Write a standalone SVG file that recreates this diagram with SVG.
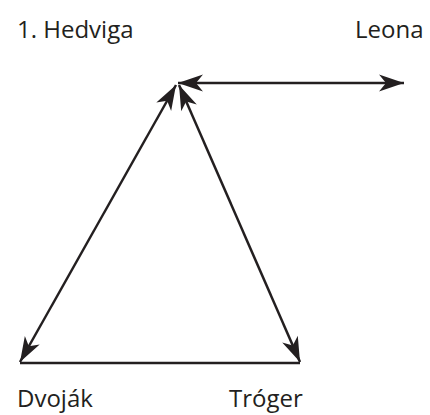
<svg xmlns="http://www.w3.org/2000/svg" width="430" height="415" viewBox="0 0 430 415">
<style>
.lbl{font-family:"Open Sans","Noto Sans",sans-serif;font-size:24px;fill:#231f20}
.ln{stroke:#231f20;stroke-width:2.5;fill:none}
</style>
<defs>
<marker id="ah" viewBox="-26 -10 28 20" refX="0" refY="0" markerWidth="28" markerHeight="20" markerUnits="userSpaceOnUse" orient="auto-start-reverse">
<path d="M0,0 L-25,-8.5 L-18,0 L-25,8.5 Z" fill="#231f20"/>
</marker>
</defs>
<rect width="430" height="415" fill="#fff"/>
<g id="connectors">
<line class="ln" x1="178" y1="83" x2="404" y2="83" marker-start="url(#ah)" marker-end="url(#ah)"/>
<line class="ln" x1="176" y1="85" x2="20" y2="362" marker-start="url(#ah)" marker-end="url(#ah)"/>
<line class="ln" x1="179" y1="85" x2="300" y2="362" marker-start="url(#ah)" marker-end="url(#ah)"/>
<line class="ln" x1="20" y1="363" x2="300" y2="363"/>
</g>
<g id="hedviga"><text class="lbl" x="17" y="38">1. Hedviga</text></g>
<g id="leona"><text class="lbl" x="355" y="38">Leona</text></g>
<g id="dvojak"><text class="lbl" x="17" y="407">Dvoják</text></g>
<g id="troger"><text class="lbl" x="229" y="407">Tróger</text></g>
</svg>
